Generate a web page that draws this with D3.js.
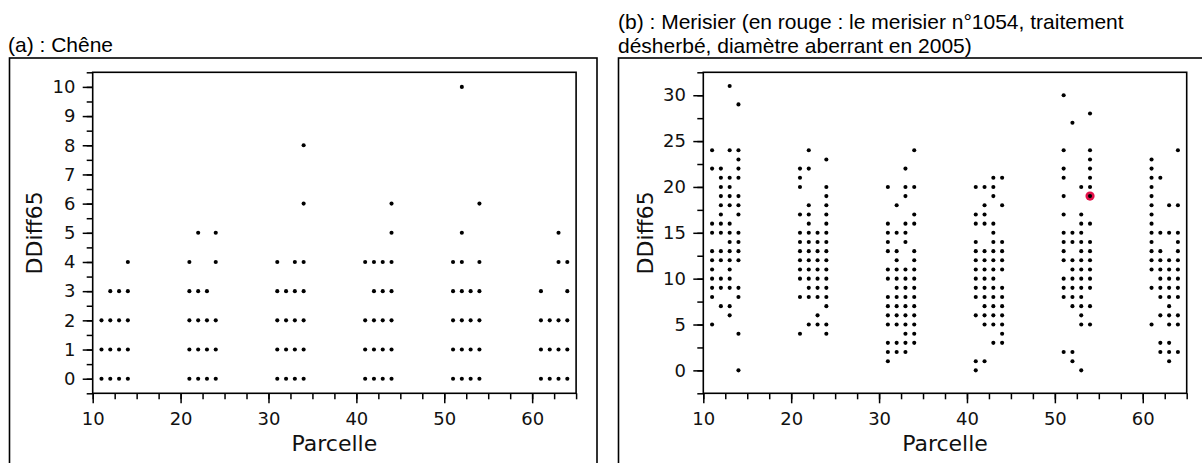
<!DOCTYPE html>
<html>
<head>
<meta charset="utf-8">
<script src="https://cdn.jsdelivr.net/npm/d3@7/dist/d3.min.js"></script>
<style>
  html, body { margin: 0; padding: 0; background: #fff; }
  svg { display: block; }
</style>
</head>
<body>
<svg id="chart" width="1202" height="463"></svg>
<script>
// Parcelle numbers (four trees per block of ten)
const parcelles = [11, 12, 13, 14, 21, 22, 23, 24, 31, 32, 33, 34,
                   41, 42, 43, 44, 51, 52, 53, 54, 61, 62, 63, 64];

// DDiff65 values observed in each parcelle, oak (chêne)
const cheneDDiff = [
  [0, 1, 2], [0, 1, 2, 3], [0, 1, 2, 3], [0, 1, 2, 3, 4],
  [0, 1, 2, 3, 4], [0, 1, 2, 3, 5], [0, 1, 2, 3], [0, 1, 2, 4, 5],
  [0, 1, 2, 3, 4], [0, 1, 2, 3], [0, 1, 2, 3, 4], [0, 1, 2, 3, 4, 6, 8],
  [0, 1, 2, 4], [0, 1, 2, 3, 4], [0, 1, 2, 3, 4], [0, 1, 2, 3, 4, 5, 6],
  [0, 1, 2, 3, 4], [0, 1, 2, 3, 4, 5, 10], [0, 1, 2, 3], [0, 1, 2, 3, 4, 6],
  [0, 1, 2, 3], [0, 1, 2], [0, 1, 2, 4, 5], [0, 1, 2, 3, 4]
];

// DDiff65 values observed in each parcelle, wild cherry (merisier)
const merisierDDiff = [
  [24, 22, 16, 15, 13, 12, 11, 10, 9, 8, 5],
  [22, 21, 20, 19, 18, 17, 16, 15, 13, 12, 10, 9, 7],
  [31, 24, 21, 20, 19, 18, 16, 15, 14, 13, 12, 11, 10, 9, 7, 6],
  [29, 24, 23, 22, 21, 19, 18, 17, 15, 14, 13, 12, 9, 8, 4, 0],
  [22, 21, 20, 17, 15, 14, 13, 12, 11, 10, 8, 4],
  [24, 22, 18, 17, 16, 15, 14, 13, 12, 11, 10, 9, 8, 5],
  [15, 14, 13, 12, 11, 10, 9, 8, 6, 5],
  [23, 20, 19, 18, 17, 16, 15, 14, 13, 12, 11, 10, 9, 8, 7, 5, 4],
  [20, 16, 15, 14, 13, 11, 10, 8, 7, 6, 5, 3, 2, 1],
  [18, 15, 13, 12, 11, 10, 9, 8, 7, 6, 5, 3, 2],
  [22, 20, 19, 16, 15, 14, 11, 10, 9, 8, 7, 6, 5, 4, 3, 2],
  [24, 20, 17, 16, 13, 12, 11, 10, 9, 8, 7, 6, 5, 4, 3],
  [20, 17, 16, 14, 13, 12, 11, 10, 9, 8, 6, 1, 0],
  [20, 18, 17, 16, 13, 12, 11, 10, 9, 8, 7, 6, 5, 1],
  [21, 20, 19, 16, 15, 14, 13, 12, 11, 10, 9, 8, 7, 6, 5, 3],
  [21, 18, 14, 13, 12, 11, 9, 8, 7, 6, 5, 4, 3],
  [30, 24, 22, 21, 19, 17, 15, 14, 13, 12, 10, 9, 8, 2],
  [27, 15, 14, 12, 11, 10, 9, 8, 7, 2, 1],
  [20, 17, 16, 15, 14, 13, 12, 11, 10, 9, 8, 7, 6, 5, 0],
  [28, 24, 23, 22, 21, 20, 19, 16, 14, 13, 12, 11, 10, 9, 7, 5],
  [23, 22, 21, 20, 19, 18, 17, 16, 15, 14, 13, 12, 11, 9, 5],
  [21, 15, 13, 12, 11, 10, 9, 8, 6, 3, 2],
  [18, 15, 12, 11, 10, 9, 8, 7, 6, 5, 3, 2, 1],
  [24, 18, 15, 14, 13, 12, 11, 10, 9, 8, 6, 5, 2]
];

// Tree n°1054 (désherbé), highlighted in red
const merisierAberrantParcelle = [54];
const merisierAberrantDDiff = [19];

// Axis ticks
const xDomain = [10, 65];
const xTicks = [10, 20, 30, 40, 50, 60];
const xMinorTicks = d3.range(10, 65.01, 2.5);
const cheneYDomain = [-0.5, 10.5];
const cheneYTicks = d3.range(0, 11, 1);
const cheneYMinorTicks = d3.range(-0.5, 10.51, 0.5);
const merisierYDomain = [-2.5, 32.5];
const merisierYTicks = [0, 5, 10, 15, 20, 25, 30];
const merisierYMinorTicks = d3.range(-2.5, 32.51, 2.5);

const svg = d3.select("#chart");
const tickFont = "DejaVu Sans, sans-serif";
const titleFont = "Liberation Sans, Arial, sans-serif";

function flatten(values) {
  const pts = [];
  parcelles.forEach((p, i) => values[i].forEach(v => pts.push({ p, v })));
  return pts;
}

function drawPanel(cfg) {
  const { left, top, width, height } = cfg.plot;
  const x = d3.scaleLinear().domain(xDomain).range([left, left + width]);
  const y = d3.scaleLinear().domain(cfg.yDomain).range([top + height, top]);

  // outer frame around the panel
  svg.append("rect")
    .attr("x", cfg.box[0]).attr("y", cfg.box[1])
    .attr("width", cfg.box[2]).attr("height", cfg.box[3])
    .attr("fill", "none").attr("stroke", "#000").attr("stroke-width", 1.6);

  // panel caption, one text element per line
  cfg.title.forEach((line, i) => {
    svg.append("text")
      .attr("x", cfg.titlePos[0]).attr("y", cfg.titlePos[1] + i * 23.5)
      .attr("font-family", titleFont).attr("font-size", 21).attr("fill", "#000")
      .text(line);
  });

  // minor ticks
  svg.append("g").attr("transform", `translate(0,${top + height})`)
    .call(d3.axisBottom(x).tickValues(xMinorTicks).tickSize(6).tickFormat(""))
    .call(g => g.select(".domain").remove())
    .call(g => g.selectAll("line").attr("stroke-width", 1.5));
  svg.append("g").attr("transform", `translate(${left},0)`)
    .call(d3.axisLeft(y).tickValues(cfg.yMinor).tickSize(6).tickFormat(""))
    .call(g => g.select(".domain").remove())
    .call(g => g.selectAll("line").attr("stroke-width", 1.5));

  // major ticks and labels
  svg.append("g").attr("transform", `translate(0,${top + height})`)
    .call(d3.axisBottom(x).tickValues(xTicks).tickSize(10).tickPadding(9.4))
    .call(g => g.select(".domain").remove())
    .call(g => g.selectAll("line").attr("stroke-width", 1.5))
    .call(g => g.selectAll("text").attr("font-family", tickFont)
      .attr("font-size", 18).attr("fill", "#111"));
  svg.append("g").attr("transform", `translate(${left},0)`)
    .call(d3.axisLeft(y).tickValues(cfg.yTicks).tickSize(10).tickPadding(7.3))
    .call(g => g.select(".domain").remove())
    .call(g => g.selectAll("line").attr("stroke-width", 1.5))
    .call(g => g.selectAll("text").attr("font-family", tickFont)
      .attr("font-size", 18).attr("fill", "#111"));

  // plot frame
  svg.append("rect")
    .attr("x", left).attr("y", top).attr("width", width).attr("height", height)
    .attr("fill", "none").attr("stroke", "#000").attr("stroke-width", 1.6);

  // axis titles
  svg.append("text")
    .attr("x", left + width / 2).attr("y", 450.5)
    .attr("text-anchor", "middle")
    .attr("font-family", tickFont).attr("font-size", 22).attr("fill", "#111")
    .text("Parcelle");
  svg.append("text")
    .attr("transform", `translate(${left - 50.3},${top + height / 2}) rotate(-90)`)
    .attr("text-anchor", "middle")
    .attr("font-family", tickFont).attr("font-size", 22).attr("fill", "#111")
    .text("DDiff65");

  // highlighted tree
  if (cfg.highlight) {
    svg.append("g").selectAll("circle")
      .data(cfg.highlight)
      .join("circle")
      .attr("cx", d => x(d.p)).attr("cy", d => y(d.v))
      .attr("r", 4.6).attr("fill", "#e3124a");
  }

  // observations
  svg.append("g").selectAll("circle")
    .data(flatten(cfg.values))
    .join("circle")
    .attr("cx", d => x(d.p)).attr("cy", d => y(d.v))
    .attr("r", 2.05).attr("fill", "#000");
}

drawPanel({
  plot: { left: 92.7, top: 72.3, width: 483.4, height: 321 },
  box: [9.5, 58, 587.5, 420],
  title: ["(a) : Chêne"],
  titlePos: [8, 52],
  yDomain: cheneYDomain, yTicks: cheneYTicks, yMinor: cheneYMinorTicks,
  values: cheneDDiff
});

drawPanel({
  plot: { left: 703.3, top: 72.3, width: 483.4, height: 321 },
  box: [618.5, 58, 600, 420],
  title: ["(b) : Merisier (en rouge : le merisier n°1054, traitement",
          "désherbé, diamètre aberrant en 2005)"],
  titlePos: [618, 29],
  yDomain: merisierYDomain, yTicks: merisierYTicks, yMinor: merisierYMinorTicks,
  values: merisierDDiff,
  highlight: merisierAberrantParcelle.map((p, i) => ({ p, v: merisierAberrantDDiff[i] }))
});
</script>
</body>
</html>
